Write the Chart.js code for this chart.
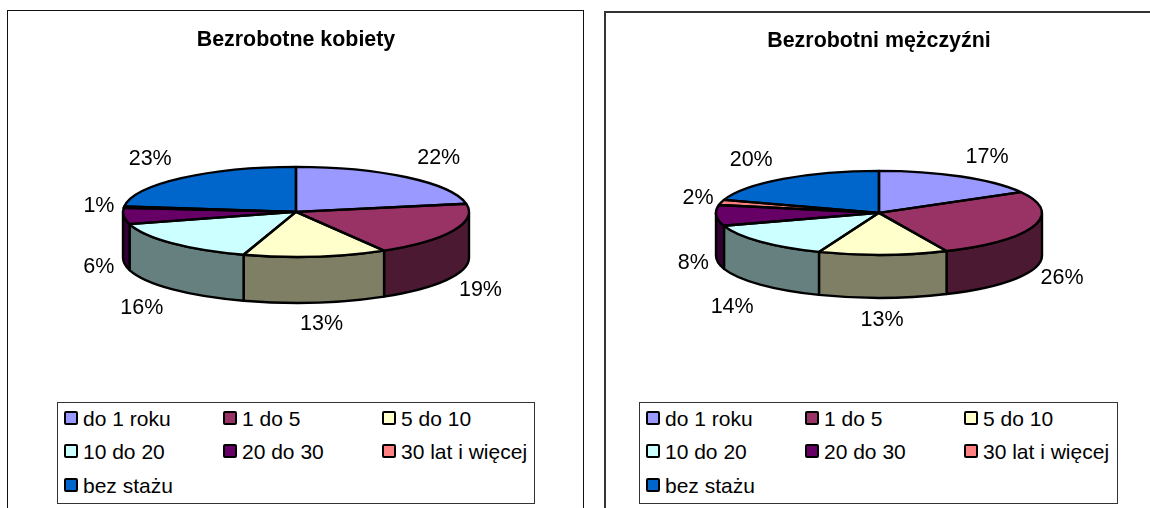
<!DOCTYPE html>
<html lang="pl">
<head>
<meta charset="utf-8">
<title>Bezrobotni</title>
<script src="https://cdn.jsdelivr.net/npm/chart.js@4"></script>
<style>
  html, body { margin: 0; padding: 0; background: #fff; width: 1150px; height: 508px; overflow: hidden; }
  body { font-family: "Liberation Sans", Arial, sans-serif; color: #000; }
  .panel { position: absolute; top: 10px; height: 500px; border: 1px solid #111; box-sizing: border-box; }
  .panel canvas { position: absolute; left: 0; top: 0; }
  .legend { position: absolute; top: 391px; height: 102px; box-sizing: border-box; border: 1px solid #333; background: #fff; }
  .legend span.item { position: absolute; white-space: nowrap; font-size: 21px; line-height: 24px; height: 24px; padding-left: 19px; }
  .legend i { position: absolute; left: 0; top: 4px; width: 14px; height: 14px; box-sizing: border-box; border: 2px solid #000; border-radius: 2px; }
</style>
</head>
<body>
<div class="panel" id="p1" style="left:7px;width:577px"><canvas id="chartK" width="575" height="498"></canvas><div class="legend" id="legendK" style="left:49px;width:478px"></div></div>
<div class="panel" id="p2" style="left:604px;width:560px;top:11px;border-width:2px;border-color:#333"><canvas id="chartM" width="540" height="497" style="top:-1px"></canvas><div class="legend" id="legendM" style="left:33px;width:479px;top:389px"></div></div>
<script>
const categories = ['do 1 roku', '1 do 5', '5 do 10', '10 do 20', '20 do 30', '30 lat i więcej', 'bez stażu'];
const kobiety = [22.1, 19.4, 13.4, 15.7, 5.8, 0.5, 23.1];
const mezczyzni = [16.8, 26.4, 12.8, 14, 8, 2, 20];
const colors = ['#9999ff', '#993366', '#ffffcc', '#ccffff', '#660066', '#ff8080', '#0066cc'];

// przesuniecia etykiet wzgledem krawedzi wycinka
const offsetsK = [[32, -19], [27, 14], [6, 22], [-30, 19], [-25, 5], [-25, -1], [-31, -19]];
const offsetsM = [[26, -19], [28, 9], [-1, 22], [-28, 22], [-23, 5], [-23, -4], [-32, -19]];

function darker(hex) {
  const n = parseInt(hex.slice(1), 16);
  const r = (n >> 16) >> 1, g = ((n >> 8) & 255) >> 1, b = (n & 255) >> 1;
  return `rgb(${r}, ${g}, ${b})`;
}

// spłaszczenie koła do elipsy + boczna ściana
const pie3d = {
  id: 'pie3d',
  beforeDatasetsDraw(chart, args, opts) {
    const ctx = chart.ctx;
    const arcs = chart.getDatasetMeta(0).data;
    const { x, y, outerRadius: rx } = arcs[0];
    const ry = rx * opts.tilt;
    ctx.save();
    ctx.lineWidth = 2.4;
    ctx.strokeStyle = '#000';
    ctx.lineJoin = 'round';
    arcs.forEach((arc, i) => {
      const a = Math.max(arc.startAngle, 0);
      const b = Math.min(arc.endAngle, Math.PI);
      if (b <= a) return;
      ctx.beginPath();
      ctx.ellipse(x, y, rx, ry, 0, a, b);
      ctx.ellipse(x, y + opts.depth, rx, ry, 0, b, a, true);
      ctx.closePath();
      ctx.fillStyle = darker(colors[i]);
      ctx.fill();
      ctx.stroke();
    });
    ctx.restore();
    ctx.save();
    ctx.translate(x, y);
    ctx.scale(1, opts.tilt);
    ctx.translate(-x, -y);
  },
  afterDatasetsDraw(chart, args, opts) {
    const ctx = chart.ctx;
    ctx.restore();
    const arcs = chart.getDatasetMeta(0).data;
    const values = chart.data.datasets[0].data;
    const { x, y, outerRadius: rx } = arcs[0];
    const ry = rx * opts.tilt;
    ctx.save();
    ctx.lineWidth = 2.4;
    ctx.strokeStyle = '#000';
    ctx.lineJoin = 'round';
    arcs.forEach(arc => {
      ctx.beginPath();
      ctx.moveTo(x, y);
      ctx.ellipse(x, y, rx, ry, 0, arc.startAngle, arc.endAngle);
      ctx.closePath();
      ctx.stroke();
    });
    ctx.font = '21.5px "Liberation Sans", Arial, sans-serif';
    ctx.fillStyle = '#000';
    ctx.textAlign = 'center';
    ctx.textBaseline = 'middle';
    arcs.forEach((arc, i) => {
      const mid = (arc.startAngle + arc.endAngle) / 2;
      const front = mid > 0 && mid < Math.PI;
      const px = x + rx * Math.cos(mid) + opts.offsets[i][0];
      const py = y + ry * Math.sin(mid) + (front ? opts.depth : 0) + opts.offsets[i][1];
      ctx.fillText(Math.round(values[i]) + '%', px, py);
    });
    ctx.restore();
  }
};

function drawLegend(id, cols, rows) {
  const box = document.getElementById(id);
  categories.forEach((name, i) => {
    const el = document.createElement('span');
    el.className = 'item';
    el.style.left = cols[i % 3] + 'px';
    el.style.top = rows[Math.floor(i / 3)] + 'px';
    el.innerHTML = `<i style="background:${colors[i]}"></i>${name}`;
    box.appendChild(el);
  });
}

function makeChart(id, title, values, radius, tilt, depth, offsets, padding, titleTop) {
  return new Chart(document.getElementById(id), {
    type: 'pie',
    data: {
      labels: categories,
      datasets: [{ data: values, backgroundColor: colors, borderWidth: 0, radius: radius }]
    },
    options: {
      responsive: false,
      animation: false,
      layout: { padding: padding },
      plugins: {
        legend: { display: false },
        tooltip: { enabled: false },
        title: {
          display: true,
          text: title,
          color: '#000',
          font: { family: '"Liberation Sans", Arial, sans-serif', size: 21.4, weight: 'bold' },
          padding: { top: titleTop, bottom: 0 }
        },
        pie3d: { tilt: tilt, depth: depth, offsets: offsets }
      }
    },
    plugins: [pie3d]
  });
}

makeChart('chartK', 'Bezrobotne kobiety', kobiety, 173, 45 / 173, 46, offsetsK, { left: 1, right: 0, top: 0, bottom: 138 }, 16);
makeChart('chartM', 'Bezrobotni mężczyźni', mezczyzni, 163, 42 / 163, 43, offsetsM, { left: 6, right: 0, top: 0, bottom: 137 }, 16);

drawLegend('legendK', [6, 165, 324], [4, 37, 71]);
drawLegend('legendM', [6, 165, 324], [4, 37, 71]);
</script>
</body>
</html>
